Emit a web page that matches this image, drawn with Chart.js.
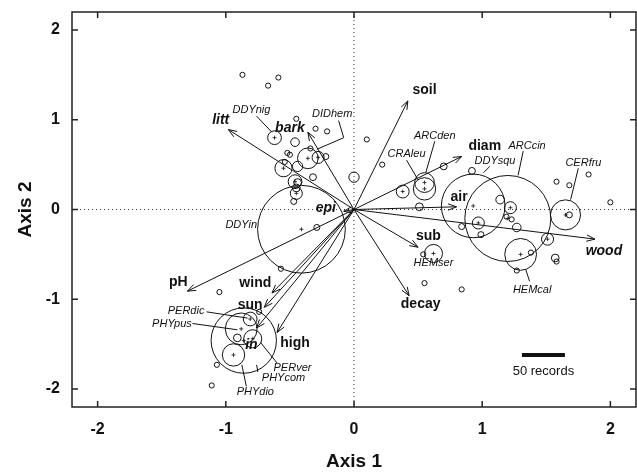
<!DOCTYPE html>
<html lang="en">
<head>
    <meta charset="UTF-8">
    <title>Ordination biplot</title>
    <script src="https://cdn.jsdelivr.net/npm/chart.js"></script>
    <style>
        body { margin: 0; background: #fff; }
    </style>
</head>
<body>
    <canvas id="biplot" width="637" height="473"></canvas>

    <script>
        // axis ticks
        const axisTicks = [-2, -1, 0, 1, 2];

        // species scores (axis 1, axis 2) and number of records
        const speciesNames = ["", "", "", "", "DDYnig", "", "", "", "", "", "",
            "", "DIDhem", "", "", "", "", "", "", "", "", "", "", "", "", "",
            "ARCden", "CRAleu", "", "", "", "", "DDYsqu", "ARCcin", "", "", "", "", "",
            "", "", "", "", "", "", "", "CERfru", "", "", "HEMcal", "", "", "", "",
            "HEMser", "", "", "", "DDYin", "", "", "", "PHYcom", "PHYpus", "PERdic",
            "PERver", "", "PHYdio", "", "", ""];
        const speciesX = [-0.87, -0.67, -0.59, -0.45, -0.62, -0.30, -0.21, -0.46, -0.34, -0.52, -0.50,
            -0.36, -0.28, -0.22, -0.55, -0.54, -0.44, -0.32, -0.46, -0.44, -0.45, -0.45, -0.47, 0.00, 0.10, 0.22,
            0.55, 0.55, 0.38, 0.70, 0.51, 0.92, 0.93, 1.20, 1.14, 1.22, 1.19, 1.23, 1.27,
            0.84, 0.97, 0.99, 1.58, 1.68, 1.83, 2.00, 1.65, 1.68, 1.51, 1.30, 1.38, 1.27, 1.57, 1.58,
            0.62, 0.54, 0.55, 0.84, -0.41, -0.29, -0.57, -1.05, -0.86, -0.88, -0.81,
            -0.79, -0.91, -0.94, -0.74, -1.07, -1.11];
        const speciesY = [1.50, 1.38, 1.47, 1.01, 0.80, 0.90, 0.87, 0.75, 0.68, 0.63, 0.61,
            0.57, 0.58, 0.59, 0.46, 0.53, 0.48, 0.36, 0.31, 0.30, 0.18, 0.24, 0.09, 0.36, 0.78, 0.50,
            0.30, 0.23, 0.20, 0.48, 0.03, 0.43, 0.04, -0.10, 0.11, 0.02, -0.08, -0.11, -0.20,
            -0.19, -0.15, -0.28, 0.31, 0.27, 0.39, 0.08, -0.06, -0.06, -0.33, -0.50, -0.48, -0.68, -0.54, -0.58,
            -0.49, -0.50, -0.82, -0.89, -0.22, -0.20, -0.66, -0.92, -1.46, -1.33, -1.22,
            -1.44, -1.43, -1.62, -1.14, -1.73, -1.96];
        const speciesRecords = [3, 3, 3, 3, 8, 3, 3, 5, 3, 3, 3,
            12, 7, 3.5, 10, 3, 6, 4, 8, 4.5, 7, 4.5, 3.5, 6, 3, 3,
            11.5, 13, 7.5, 4, 4.5, 4, 37, 50, 5, 7, 3, 3, 5,
            3.5, 7, 3.5, 3, 3, 3, 3, 17.5, 3.5, 7, 18.5, 3, 3, 4.5, 3,
            10.5, 3, 3, 3, 51, 3.5, 3, 3, 38, 18.5, 8,
            10.5, 4.5, 13, 3, 3, 3];

        // environmental vectors
        const arrowNames = ["soil", "diam", "air", "wood", "sub", "decay", "litt", "bark", "epi",
            "pH", "wind", "sun", "in", "high"];
        const arrowX = [0.42, 0.84, 0.80, 1.88, 0.50, 0.43, -0.98, -0.36, -0.08,
            -1.30, -0.64, -0.70, -0.76, -0.60];
        const arrowY = [1.21, 0.59, 0.03, -0.33, -0.42, -0.96, 0.89, 0.86, -0.02,
            -0.91, -0.93, -1.09, -1.32, -1.37];
        const arrowItalic = ["wood", "litt", "bark", "epi", "in"];

        // where the vector names are written
        const arrowLabelSpots = {
            soil: [0.55, 1.33], diam: [1.02, 0.71], air: [0.82, 0.14], wood: [1.95, -0.46],
            sub: [0.58, -0.30], decay: [0.52, -1.05], litt: [-1.04, 0.99], bark: [-0.50, 0.91],
            epi: [-0.22, 0.01], pH: [-1.37, -0.81], wind: [-0.77, -0.82], sun: [-0.81, -1.06],
            in: [-0.80, -1.51], high: [-0.46, -1.49]
        };

        // species name placement and leader lines
        const speciesLabelSpots = {
            DDYnig: { at: [-0.80, 1.11], lead: [[-0.76, 1.04], [-0.64, 0.86]] },
            DIDhem: { at: [-0.17, 1.07], lead: [[-0.12, 0.99], [-0.08, 0.80], [-0.29, 0.67]] },
            CRAleu: { at: [0.41, 0.62], lead: [[0.41, 0.55], [0.50, 0.33]] },
            ARCden: { at: [0.63, 0.82], lead: [[0.63, 0.76], [0.56, 0.41]] },
            DDYsqu: { at: [1.10, 0.54], lead: [[1.06, 0.48], [1.01, 0.41]] },
            ARCcin: { at: [1.35, 0.71], lead: [[1.32, 0.65], [1.28, 0.38]] },
            CERfru: { at: [1.79, 0.52], lead: [[1.75, 0.46], [1.69, 0.11]] },
            HEMcal: { at: [1.39, -0.90], lead: [[1.37, -0.80], [1.34, -0.67]] },
            HEMser: { at: [0.62, -0.60], lead: [] },
            DDYin: { at: [-0.88, -0.17], lead: [] },
            PERdic: { at: [-1.31, -1.13], lead: [[-1.15, -1.14], [-0.83, -1.21]] },
            PHYpus: { at: [-1.42, -1.27], lead: [[-1.26, -1.27], [-0.91, -1.34]] },
            PERver: { at: [-0.48, -1.76], lead: [[-0.60, -1.71], [-0.73, -1.48]] },
            PHYcom: { at: [-0.55, -1.88], lead: [[-0.75, -1.81], [-0.76, -1.73]] },
            PHYdio: { at: [-0.77, -2.03], lead: [[-0.84, -1.97], [-0.875, -1.73]] }
        };

        const pxPerRecord = 0.86;   // circle radius in pixels for one record
        const fontFamily = "'Liberation Sans', Arial, Helvetica, sans-serif";
        const ink = "#111";

        let circles = speciesX.map((x, i) => ({ x: x, y: speciesY[i], r: speciesRecords[i] * pxPerRecord }));
        let centres = speciesX.map((x, i) => ({ x: x, y: speciesY[i] }))
            .filter((p, i) => speciesRecords[i] >= 7);

        let datasets = arrowNames.map((name, i) => ({
            type: "line",
            label: name,
            data: [{ x: 0, y: 0 }, { x: arrowX[i], y: arrowY[i] }],
            borderColor: ink,
            borderWidth: 1,
            pointRadius: 0,
            fill: false
        }));
        datasets.push({
            type: "bubble",
            label: "species",
            data: circles,
            borderColor: ink,
            borderWidth: 1,
            backgroundColor: "rgba(0,0,0,0)"
        });
        datasets.push({
            type: "scatter",
            label: "centres",
            data: centres,
            pointStyle: "cross",
            pointRadius: 2,
            borderColor: ink,
            borderWidth: 0.8
        });

        function px(chart, x, y) {
            return [chart.scales.x.getPixelForValue(x), chart.scales.y.getPixelForValue(y)];
        }

        const biplotDecor = {
            id: "biplotDecor",
            beforeDatasetsDraw(chart) {
                const ctx = chart.ctx, a = chart.chartArea;
                const [x0, y0] = px(chart, 0, 0);
                ctx.save();
                ctx.strokeStyle = "#333";
                ctx.lineWidth = 1;
                ctx.setLineDash([1, 3]);
                ctx.beginPath();
                ctx.moveTo(x0, a.top); ctx.lineTo(x0, a.bottom);
                ctx.moveTo(a.left, y0); ctx.lineTo(a.right, y0);
                ctx.stroke();
                ctx.restore();
            },
            afterDatasetsDraw(chart) {
                const ctx = chart.ctx, a = chart.chartArea;
                ctx.save();

                // frame with inward ticks on all sides
                ctx.strokeStyle = "#222";
                ctx.lineWidth = 1.5;
                ctx.strokeRect(a.left, a.top, a.right - a.left, a.bottom - a.top);
                ctx.beginPath();
                axisTicks.forEach(v => {
                    const tx = chart.scales.x.getPixelForValue(v);
                    const ty = chart.scales.y.getPixelForValue(v);
                    ctx.moveTo(tx, a.bottom); ctx.lineTo(tx, a.bottom - 6);
                    ctx.moveTo(tx, a.top); ctx.lineTo(tx, a.top + 6);
                    ctx.moveTo(a.left, ty); ctx.lineTo(a.left + 6, ty);
                    ctx.moveTo(a.right, ty); ctx.lineTo(a.right - 6, ty);
                });
                ctx.stroke();

                // arrow heads
                ctx.strokeStyle = ink;
                ctx.lineWidth = 1;
                const [ox, oy] = px(chart, 0, 0);
                arrowNames.forEach((name, i) => {
                    const [tx, ty] = px(chart, arrowX[i], arrowY[i]);
                    const ang = Math.atan2(ty - oy, tx - ox);
                    const len = 9, spread = 0.36;
                    ctx.beginPath();
                    ctx.moveTo(tx - len * Math.cos(ang - spread), ty - len * Math.sin(ang - spread));
                    ctx.lineTo(tx, ty);
                    ctx.lineTo(tx - len * Math.cos(ang + spread), ty - len * Math.sin(ang + spread));
                    ctx.stroke();
                });

                // vector names
                ctx.fillStyle = ink;
                ctx.textAlign = "center";
                ctx.textBaseline = "middle";
                arrowNames.forEach(name => {
                    const spot = arrowLabelSpots[name];
                    const italic = arrowItalic.includes(name) ? "italic " : "";
                    ctx.font = italic + "bold 14px " + fontFamily;
                    const [lx, ly] = px(chart, spot[0], spot[1]);
                    ctx.fillText(name, lx, ly);
                });

                // species names with leader lines
                ctx.font = "italic 11px " + fontFamily;
                Object.keys(speciesLabelSpots).forEach(name => {
                    const s = speciesLabelSpots[name];
                    const [lx, ly] = px(chart, s.at[0], s.at[1]);
                    ctx.fillText(name, lx, ly);
                    if (s.lead.length) {
                        ctx.beginPath();
                        s.lead.forEach((p, k) => {
                            const [qx, qy] = px(chart, p[0], p[1]);
                            if (k === 0) ctx.moveTo(qx, qy); else ctx.lineTo(qx, qy);
                        });
                        ctx.stroke();
                    }
                });

                // size key
                const [bx, by] = px(chart, 1.31, -1.62);
                ctx.lineWidth = 4;
                ctx.beginPath();
                ctx.moveTo(bx, by);
                ctx.lineTo(bx + 50 * pxPerRecord, by);
                ctx.stroke();
                ctx.font = "13px " + fontFamily;
                ctx.fillText("50 records", bx + 25 * pxPerRecord, by + 16);

                // axis titles
                ctx.font = "bold 19px " + fontFamily;
                ctx.fillText("Axis 1", (a.left + a.right) / 2, 462);
                ctx.translate(26, (a.top + a.bottom) / 2);
                ctx.rotate(-Math.PI / 2);
                ctx.fillText("Axis 2", 0, 0);
                ctx.restore();
            }
        };

        const tickFont = { family: fontFamily, size: 16, weight: "bold" };

        function noOverflow(scale) {
            scale.paddingTop = 0;
            scale.paddingBottom = 0;
            scale.paddingLeft = 0;
            scale.paddingRight = 0;
        }

        new Chart(document.getElementById("biplot"), {
            data: { datasets: datasets },
            options: {
                responsive: false,
                animation: false,
                events: [],
                layout: { autoPadding: false, padding: { top: 12, right: 1, left: 0, bottom: 0 } },
                plugins: { legend: { display: false }, tooltip: { enabled: false } },
                scales: {
                    x: {
                        type: "linear",
                        min: -2.2,
                        max: 2.2,
                        afterBuildTicks: scale => { scale.ticks = axisTicks.map(v => ({ value: v })); },
                        afterFit: scale => { scale.height = 66; noOverflow(scale); },
                        grid: { display: false, drawTicks: false },
                        border: { display: false },
                        ticks: { font: tickFont, color: ink, padding: 13 }
                    },
                    y: {
                        type: "linear",
                        min: -2.2,
                        max: 2.2,
                        afterBuildTicks: scale => { scale.ticks = axisTicks.map(v => ({ value: v })); },
                        afterFit: scale => { scale.width = 72; noOverflow(scale); },
                        grid: { display: false, drawTicks: false },
                        border: { display: false },
                        ticks: { font: tickFont, color: ink, padding: 12 }
                    }
                }
            },
            plugins: [biplotDecor]
        });
    </script>
</body>
</html>
